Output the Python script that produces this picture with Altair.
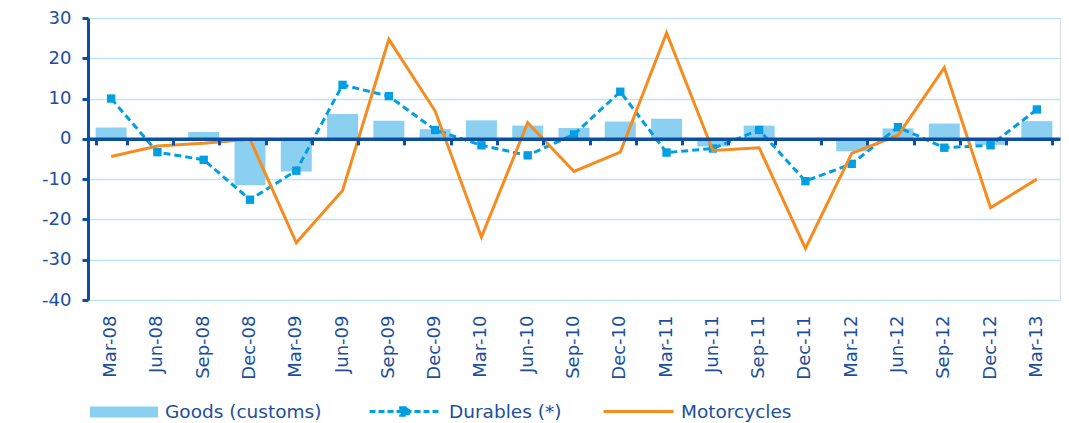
import altair as alt
import pandas as pd

dates = ["Mar-08", "Jun-08", "Sep-08", "Dec-08", "Mar-09", "Jun-09", "Sep-09", "Dec-09",
         "Mar-10", "Jun-10", "Sep-10", "Dec-10", "Mar-11", "Jun-11", "Sep-11", "Dec-11",
         "Mar-12", "Jun-12", "Sep-12", "Dec-12", "Mar-13"]
goods = [2.8, 0.0, 1.7, -11.5, -8.1, 6.2, 4.5, 2.4, 4.6, 3.3, 2.7, 4.3, 5.0, -1.9, 3.3, 0.0,
         -3.1, 2.6, 3.8, -1.5, 4.4]
durables = [10.0, -3.3, -5.2, -15.1, -7.9, 13.4, 10.6, 2.2, -1.6, -4.1, 1.1, 11.7, -3.4, -2.4,
            2.2, -10.5, -6.2, 2.9, -2.2, -1.6, 7.3]
moto = [-4.4, -1.8, -1.1, -0.1, -25.8, -12.8, 24.7, 6.9, -24.4, 4.0, -8.1, -3.3, 26.3, -2.9,
        -2.2, -27.2, -3.6, 0.9, 17.7, -17.1, -10.0]
series_names = ["Goods (customs)", "Durables (*)", "Motorcycles"]
y_ticks = [30, 20, 10, 0, -10, -20, -30, -40]

df = pd.DataFrame({"date": dates, "goods": goods, "durables": durables, "moto": moto})

FONT = "DejaVu Sans"
AXIS = "#0B4EA2"
TEXT = "#1B4F9C"
GRID = "#BEE5F6"
C_GOODS = "#8CD0F1"
C_DUR = "#009FE3"
C_MOTO = "#F68B1F"

W, H = 972, 282
YMIN, YMAX = -40, 30
zero_offset = -H * (0 - YMIN) / (YMAX - YMIN)
LEG_Y = 360
LEG_Y2 = 357
LEG_FS = 18.5

xscale = alt.Scale(domain=dates, paddingInner=0.33, paddingOuter=0.165)
yscale = alt.Scale(domain=[YMIN, YMAX], nice=False)
yaxis = alt.Axis(values=y_ticks, title=None, grid=True, gridColor=GRID, gridWidth=1.5,
                 domainColor=AXIS, domainWidth=3, tickColor=AXIS, tickWidth=3, tickSize=6,
                 labelExpr="'' + datum.value",
                 labelFont=FONT, labelFontSize=18, labelColor=TEXT, labelPadding=11)

base = alt.Chart(df)

bars = base.mark_bar(size=31).transform_calculate(s=f"'{series_names[0]}'").encode(
    x=alt.X("date:N", sort=dates, scale=xscale,
            axis=alt.Axis(title=None, labels=False, orient="bottom", offset=zero_offset,
                          domainColor=AXIS, domainWidth=3.5, ticks=True, tickBand="extent",
                          tickColor=AXIS, tickWidth=3, tickSize=6, grid=False, zindex=1)),
    y=alt.Y("goods:Q", scale=yscale, axis=yaxis),
    color=alt.Color("s:N", scale=alt.Scale(domain=[series_names[0]], range=[C_GOODS]),
                    legend=alt.Legend(title=None, orient="none", legendX=2, legendY=LEG_Y,
                                      symbolType="M-1,-0.16H1V0.16H-1Z", symbolSize=4624,
                                      symbolStrokeWidth=0, symbolFillColor=C_GOODS,
                                      labelFont=FONT, labelFontSize=LEG_FS, labelColor=TEXT,
                                      labelOffset=7, padding=0)),
)

dur_line = base.mark_line(strokeWidth=3, strokeDash=[7, 4]).transform_calculate(
    s=f"'{series_names[1]}'").encode(
    x=alt.X("date:N", sort=dates, scale=xscale,
            axis=alt.Axis(title=None, orient="bottom", labelAngle=270, labelAlign="right",
                          labelBaseline="middle",
                          labelFont=FONT, labelFontSize=18, labelColor=TEXT, labelPadding=15,
                          domain=False, ticks=False, grid=False)),
    y=alt.Y("durables:Q", scale=yscale, axis=yaxis),
    color=alt.Color("s:N", scale=alt.Scale(domain=[series_names[1]], range=[C_DUR]),
                    legend=alt.Legend(title=None, orient="none", legendX=280, legendY=LEG_Y2,
                                      symbolType="M-1,0H1M-0.11,-0.11H0.11V0.11H-0.11Z",
                                      symbolSize=4900, symbolStrokeWidth=3,
                                      symbolDash=[6, 3], symbolFillColor=C_DUR,
                                      symbolStrokeColor=C_DUR,
                                      labelFont=FONT, labelFontSize=LEG_FS, labelColor=TEXT,
                                      labelOffset=8, padding=0)),
)

dur_pts = base.mark_point(shape="square", filled=True, size=70, opacity=1, color=C_DUR).encode(
    x=alt.X("date:N", sort=dates, scale=xscale, axis=None),
    y=alt.Y("durables:Q", scale=yscale, axis=yaxis),
)

moto_line = base.mark_line(strokeWidth=3).transform_calculate(s=f"'{series_names[2]}'").encode(
    x=alt.X("date:N", sort=dates, scale=xscale, axis=None),
    y=alt.Y("moto:Q", scale=yscale, axis=yaxis),
    color=alt.Color("s:N", scale=alt.Scale(domain=[series_names[2]], range=[C_MOTO]),
                    legend=alt.Legend(title=None, orient="none", legendX=514, legendY=LEG_Y2,
                                      symbolType="M-1,0H1", symbolSize=4900,
                                      symbolStrokeWidth=3, symbolStrokeColor=C_MOTO,
                                      labelFont=FONT, labelFontSize=LEG_FS, labelColor=TEXT,
                                      labelOffset=6, padding=0)),
)

chart = alt.layer(bars, dur_line, dur_pts, moto_line).resolve_scale(
    color="independent").resolve_legend(color="independent").resolve_axis(
    x="independent").properties(
    width=W, height=H,
    autosize=alt.AutoSizeParams(type="none"),
    padding={"left": 80, "top": 10, "right": 1, "bottom": 122},
).configure_view(stroke=None).configure(background="white")

chart.save("out.html", embed_options={"renderer": "svg", "actions": False})
